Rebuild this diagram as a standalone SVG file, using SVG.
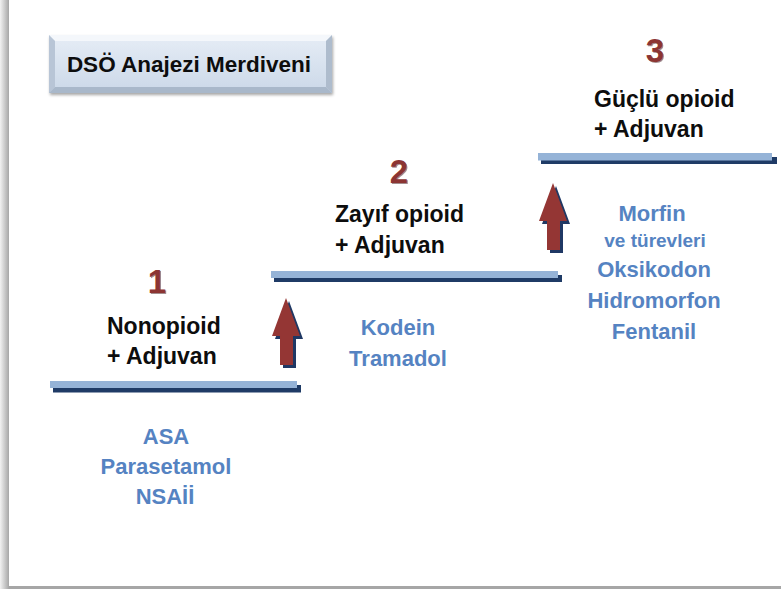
<svg xmlns="http://www.w3.org/2000/svg" width="781" height="589" viewBox="0 0 781 589">
  <defs>
    <linearGradient id="leftEdge" x1="0" y1="0" x2="1" y2="0">
      <stop offset="0" stop-color="#f2f2f2"/>
      <stop offset="1" stop-color="#a6a6a6"/>
    </linearGradient>
    <linearGradient id="boxFace" x1="0" y1="0" x2="0" y2="1">
      <stop offset="0" stop-color="#e6edf6"/>
      <stop offset="1" stop-color="#cbd8e8"/>
    </linearGradient>
    <filter id="boxShadow" x="-10%" y="-20%" width="120%" height="150%">
      <feDropShadow dx="1" dy="2" stdDeviation="1.5" flood-color="#000" flood-opacity="0.35"/>
    </filter>
  </defs>
  <style>
    .title { font-family: "Liberation Sans", Arial, sans-serif; font-weight: bold; font-size: 22.5px; fill: #0d0d0d; }
    .step { font-family: "Liberation Sans", Arial, sans-serif; font-weight: bold; font-size: 33px; fill: #8c3533; text-anchor: middle; }
    .stepShadow { font-family: "Liberation Sans", Arial, sans-serif; font-weight: bold; font-size: 33px; fill: #4a2020; opacity: 0.5; text-anchor: middle; }
    .label { font-family: "Liberation Sans", Arial, sans-serif; font-weight: bold; font-size: 23px; fill: #0d0d0d; }
    .drug { font-family: "Liberation Sans", Arial, sans-serif; font-weight: bold; font-size: 22px; fill: #5583c2; text-anchor: middle; }
    .drugSmall { font-family: "Liberation Sans", Arial, sans-serif; font-weight: bold; font-size: 19px; fill: #5583c2; text-anchor: middle; }
    .barTop { fill: #95b3d7; }
    .barShadow { fill: #1f3b66; }
    .arrow { fill: #943634; }
    .arrowShadow { fill: #1f3864; }
  </style>

  <!-- page frame -->
  <rect x="0" y="0" width="781" height="589" fill="#ffffff"/>
  <rect x="0" y="0" width="9" height="589" fill="url(#leftEdge)"/>
  <rect x="9" y="586" width="772" height="3" fill="#a6a6a6"/>

  <!-- title -->
  <g id="title">
    <g filter="url(#boxShadow)">
      <rect x="49" y="35" width="283" height="58" fill="url(#boxFace)"/>
    </g>
    <polygon points="49,35 332,35 326,41 55,41" fill="#f4f7fb"/>
    <polygon points="49,35 55,41 55,87 49,93" fill="#b8c5d6"/>
    <polygon points="332,35 332,93 326,87 326,41" fill="#aebccd"/>
    <polygon points="49,93 55,87 326,87 332,93" fill="#a9b8ca"/>
    <text class="title" x="189" y="72" text-anchor="middle">DSÖ Anajezi Merdiveni</text>
  </g>

  <!-- connectors (stair steps and arrows) -->
  <g id="connectors">
    <g id="bar1">
      <rect class="barShadow" x="53" y="385" width="248" height="7.5"/>
      <rect class="barTop" x="50" y="381" width="247" height="7"/>
    </g>
    <g id="bar2">
      <rect class="barShadow" x="274" y="275" width="288" height="7"/>
      <rect class="barTop" x="271" y="271" width="287" height="7"/>
    </g>
    <g id="bar3">
      <rect class="barShadow" x="541" y="157" width="236" height="7"/>
      <rect class="barTop" x="538" y="153" width="234" height="7.5"/>
    </g>
    <g id="arrow1">
      <polygon class="arrowShadow" transform="translate(3,3)" points="286,298 300,336 293,336 293,365 280,365 280,336 272,336"/>
      <polygon class="arrow" points="286,298 300,336 293,336 293,365 280,365 280,336 272,336"/>
    </g>
    <g id="arrow2">
      <polygon class="arrowShadow" transform="translate(3,3)" points="553,183 567,221 560,221 560,250 547,250 547,221 539,221"/>
      <polygon class="arrow" points="553,183 567,221 560,221 560,250 547,250 547,221 539,221"/>
    </g>
  </g>

  <!-- step 1 -->
  <g id="step1">
    <text class="stepShadow" x="158" y="294">1</text>
    <text class="step" x="157" y="293">1</text>
    <text class="label" x="107" y="334">Nonopioid</text>
    <text class="label" x="107" y="364">+ Adjuvan</text>
  </g>
  <g id="drugs1">
    <text class="drug" x="166" y="444">ASA</text>
    <text class="drug" x="166" y="474">Parasetamol</text>
    <text class="drug" x="165" y="504">NSAİİ</text>
  </g>

  <!-- step 2 -->
  <g id="step2">
    <text class="stepShadow" x="400" y="184">2</text>
    <text class="step" x="399" y="183">2</text>
    <text class="label" x="335" y="222">Zayıf opioid</text>
    <text class="label" x="335" y="253">+ Adjuvan</text>
  </g>
  <g id="drugs2">
    <text class="drug" x="398" y="335">Kodein</text>
    <text class="drug" x="398" y="366">Tramadol</text>
  </g>

  <!-- step 3 -->
  <g id="step3">
    <text class="stepShadow" x="656" y="63">3</text>
    <text class="step" x="655" y="62">3</text>
    <text class="label" x="594" y="107">Güçlü opioid</text>
    <text class="label" x="594" y="137">+ Adjuvan</text>
  </g>
  <g id="drugs3">
    <text class="drug" x="652" y="221">Morfin</text>
    <text class="drugSmall" x="655" y="247">ve türevleri</text>
    <text class="drug" x="654" y="277">Oksikodon</text>
    <text class="drug" x="654" y="308">Hidromorfon</text>
    <text class="drug" x="654" y="339">Fentanil</text>
  </g>
</svg>
